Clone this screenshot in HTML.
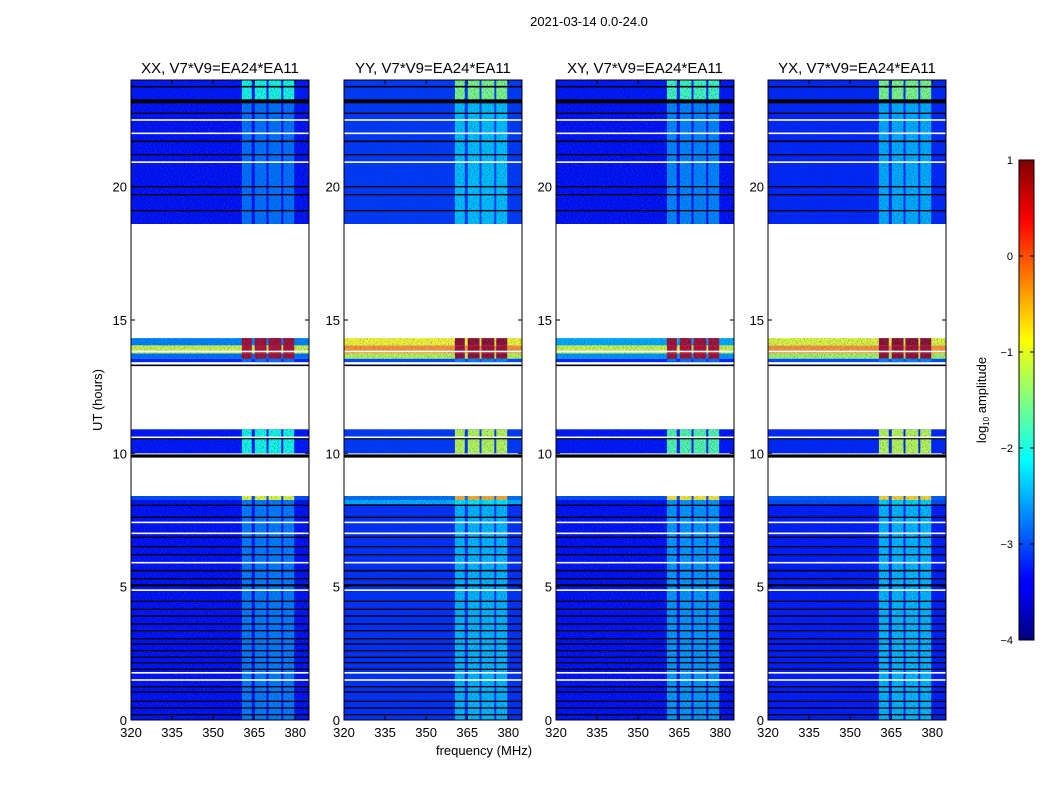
<!DOCTYPE html>
<html><head><meta charset="utf-8">
<style>
body{margin:0;background:#fff;}
svg{display:block;font-family:"Liberation Sans","DejaVu Sans",sans-serif;}
</style></head>
<body>
<svg id="fig" width="1050" height="800" viewBox="0 0 1050 800">
<defs>
<filter id="noise" x="0" y="0" width="1" height="1">
<feTurbulence type="fractalNoise" baseFrequency="0.7 1.0" numOctaves="2" seed="3" result="t"/>
<feColorMatrix in="t" type="matrix" values="0 0 0 0 0  0 0 0 0 0.05  0 0 0 0 0.35  0 0 0 2.2 -0.95" result="m"/>
<feComposite in="m" in2="SourceAlpha" operator="in" result="c"/>
<feMerge><feMergeNode in="SourceGraphic"/><feMergeNode in="c"/></feMerge>
</filter>
<linearGradient id="jet" x1="0" y1="1" x2="0" y2="0">
<stop offset="0" stop-color="#00007f"/><stop offset="0.11" stop-color="#0000ff"/>
<stop offset="0.125" stop-color="#0000ff"/><stop offset="0.375" stop-color="#00ffff"/>
<stop offset="0.5" stop-color="#7fff7f"/><stop offset="0.625" stop-color="#ffff00"/>
<stop offset="0.875" stop-color="#ff0000"/><stop offset="1" stop-color="#7f0000"/>
</linearGradient>
</defs>
<text x="589" y="26" font-size="13" text-anchor="middle">2021-03-14 0.0-24.0</text>
<text x="484" y="755" font-size="13" text-anchor="middle">frequency (MHz)</text>
<text transform="translate(102,400) rotate(-90)" font-size="13" text-anchor="middle">UT (hours)</text>
<g id="panels"></g>
<g id="cbar">
<rect x="1019" y="160" width="15" height="480" fill="url(#jet)" stroke="#000" stroke-width="1"/>
<text transform="translate(986,400) rotate(-90)" font-size="13" text-anchor="middle">log<tspan font-size="8" dy="3">10</tspan><tspan dy="-3"> amplitude</tspan></text>
</g>
</svg>
<script>
const panelTitles=["XX, V7*V9=EA24*EA11","YY, V7*V9=EA24*EA11","XY, V7*V9=EA24*EA11","YX, V7*V9=EA24*EA11"];
const xTicks=[320,335,350,365,380];
const yTicks=[0,5,10,15,20];
const cbTicks=[1,0,-1,-2,-3,-4];
const subBands=[[360.5,364.1],[365.2,369.5],[370.2,374.9],[375.6,379.6]];
// segments: [startHour, endHour, baseLog10, bandLog10]
const segXX=[[0,8.25,-3.4,-2.75],[8.25,8.4,-3.0,-1.0],[10.0,10.9,-3.3,-2.0],[13.42,13.55,-3.2,-2.8],[13.55,13.75,-2.8,0.8],[13.75,14.05,-1.1,0.7],[14.05,14.32,-2.7,0.8],[18.6,23.2,-3.4,-2.8],[23.2,24,-3.3,-2.0]];
const segYY=[[0,8.1,-3.15,-2.45],[8.1,8.25,-2.5,-2.2],[8.25,8.4,-2.8,-0.5],[10.0,10.9,-3.1,-1.2],[13.42,13.55,-3.0,-2.7],[13.55,13.75,-1.2,0.9],[13.75,14.05,-0.4,0.8],[14.05,14.32,-0.9,0.9],[18.6,23.2,-3.1,-2.4],[23.2,24,-3.1,-1.5]];
const segXY=[[0,8.25,-3.4,-2.6],[8.25,8.4,-3.0,-0.8],[10.0,10.9,-3.3,-1.7],[13.42,13.55,-3.2,-2.8],[13.55,13.75,-2.6,0.8],[13.75,14.05,-1.1,0.7],[14.05,14.32,-2.5,0.8],[18.6,23.2,-3.4,-2.7],[23.2,24,-3.3,-1.8]];
const segYX=[[0,8.1,-3.25,-2.45],[8.1,8.25,-3.0,-2.3],[8.25,8.4,-2.9,-0.7],[10.0,10.9,-3.2,-1.2],[13.42,13.55,-3.0,-2.7],[13.55,13.75,-1.3,0.9],[13.75,14.05,-0.4,0.8],[14.05,14.32,-1.0,0.9],[18.6,23.2,-3.2,-2.5],[23.2,24,-3.2,-1.5]];
const panelSegs=[segXX,segYY,segXY,segYX];
const flaggedHours=[0.2,0.45,0.7,1.05,1.25,1.9,2.15,2.35,2.6,2.85,3.05,3.35,3.6,3.9,4.15,4.45,5.05,5.3,5.6,6.2,6.5,6.85,7.6,8.05,10.55,13.3,9.9,19.1,19.7,20.0,21.2,21.7,22.75,23.2,23.75];
const flaggedWidth=[0.05,0.05,0.05,0.05,0.05,0.05,0.05,0.05,0.05,0.05,0.05,0.05,0.05,0.05,0.05,0.05,0.08,0.05,0.06,0.05,0.05,0.05,0.05,0.05,0.05,0.06,0.12,0.05,0.05,0.05,0.05,0.06,0.05,0.15,0.06];
const whiteHours=[1.5,1.77,4.87,5.9,7.0,7.41,10.6,13.82,20.92,22.0,22.5];

const NS="http://www.w3.org/2000/svg";
const pLeft=[131,344,556,768], pW=178, pTop=80, pBot=720;
const fMin=320,fMax=385;
function yS(h){return pBot-h*(pBot-pTop)/24;}
function jet(v){
  let t=(v+4)/5; t=Math.max(0,Math.min(1,t));
  const c=x=>Math.round(255*Math.max(0,Math.min(1,x)));
  const r=c(Math.min(4*t-1.5,-4*t+4.5)), g=c(Math.min(4*t-0.5,-4*t+3.5)), b=c(Math.min(4*t+0.5,-4*t+2.5));
  return `rgb(${r},${g},${b})`;
}
function mk(tag,attrs,parent){const e=document.createElementNS(NS,tag);for(const k in attrs)e.setAttribute(k,attrs[k]);parent.appendChild(e);return e;}
const root=document.getElementById('panels');
pLeft.forEach((L,pi)=>{
  const xS=f=>L+(f-fMin)*pW/(fMax-fMin);
  const g=mk('g',{},root);
  
  
  const data=mk('g',{filter:'url(#noise)'},g);
  panelSegs[pi].forEach(s=>{
    const y1=yS(s[1]), y0=yS(s[0]);
    const r=mk('rect',{x:L,y:y1,width:pW,height:y0-y1,fill:jet(s[2])},data);
    
    
    subBands.forEach(b=>{
      const br=mk('rect',{x:xS(b[0]),y:y1,width:xS(b[1])-xS(b[0]),height:y0-y1,fill:jet(s[3])},data);
      
      
    });
  });
  flaggedHours.forEach((h,i)=>{
    const fl=mk('rect',{x:L,y:yS(h+flaggedWidth[i]/2),width:pW,height:Math.max(1,flaggedWidth[i]*640/24),fill:'#000'},g);
    
    
  });
  whiteHours.forEach(h=>{
    const wl=mk('rect',{x:L,y:yS(h)-0.8,width:pW,height:1.6,fill:'#fff'},g);
    
    
  });
  const fr=mk('rect',{x:L,y:pTop,width:pW,height:pBot-pTop,fill:'none',stroke:'#000','stroke-width':1},g);
  
  
  const t=mk('text',{x:L+pW/2,y:73,'font-size':15,'text-anchor':'middle'},g);
  t.textContent=panelTitles[pi];
  
  
  xTicks.forEach(f=>{
    const x=xS(f);
    mk('line',{x1:x,x2:x,y1:pBot,y2:pBot-4,stroke:'#000'},g);
    mk('line',{x1:x,x2:x,y1:pTop,y2:pTop+4,stroke:'#000'},g);
    const tl=mk('text',{x:x,y:737,'font-size':13,'text-anchor':'middle'},g);
    tl.textContent=f;
    
    
  });
  yTicks.forEach(h=>{
    const y=yS(h);
    mk('line',{x1:L,x2:L+4,y1:y,y2:y,stroke:'#000'},g);
    mk('line',{x1:L+pW,x2:L+pW-4,y1:y,y2:y,stroke:'#000'},g);
    const tl=mk('text',{x:L-4,y:y+5,'font-size':13,'text-anchor':'end'},g);
    tl.textContent=h;
    
    
  });
});
const cb=document.getElementById('cbar');
cbTicks.forEach(v=>{
  const y=160+(1-v)*96;
  mk('line',{x1:1019,x2:1023,y1:y,y2:y,stroke:'#000'},cb);
  mk('line',{x1:1030,x2:1034,y1:y,y2:y,stroke:'#000'},cb);
  const tl=mk('text',{x:1013,y:y+4,'font-size':11,'text-anchor':'end'},cb);
  tl.textContent=v<0?'\u2212'+(-v):v;
  
  
});
</script>
</body></html>
